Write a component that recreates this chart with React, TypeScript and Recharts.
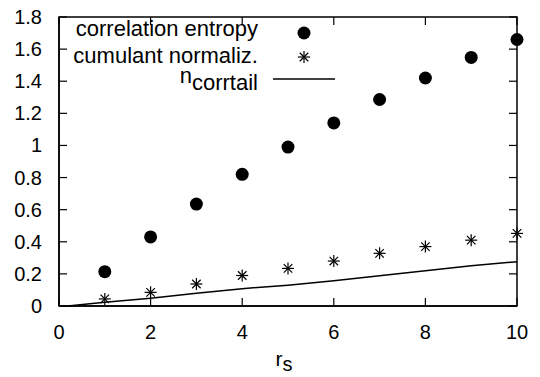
import React from "react";
import {
  ScatterChart, Scatter, XAxis, YAxis, Label,
} from "recharts";

// r_s values and series
const rs = [1, 2, 3, 4, 5, 6, 7, 8, 9, 10];
const corrEntropy = [0.214, 0.43, 0.635, 0.82, 0.99, 1.14, 1.286, 1.42, 1.548, 1.66];
const cumulantNorm = [0.044, 0.085, 0.137, 0.19, 0.234, 0.28, 0.328, 0.37, 0.41, 0.452];
const tailX = [0.19, 1, 2, 3, 4, 5, 6, 7, 8, 9, 10];
const tailY = [0, 0.023, 0.048, 0.079, 0.108, 0.13, 0.158, 0.189, 0.22, 0.25, 0.276];

const xTicks = [0, 2, 4, 6, 8, 10];
const yTicks = [0, 0.2, 0.4, 0.6, 0.8, 1, 1.2, 1.4, 1.6, 1.8];

const X_MIN = 0, X_MAX = 10, Y_MIN = 0, Y_MAX = 1.8;

const entropyData = rs.map((x, i) => ({ x, y: corrEntropy[i] }));
const cumulantData = rs.map((x, i) => ({ x, y: cumulantNorm[i] }));
const tailData = tailX.map((x, i) => ({ x, y: tailY[i] }));

const FONT = "'Liberation Sans', Arial, Helvetica, sans-serif";
const W = 540, H = 377;
const M = { top: 17, right: 23, bottom: 0, left: 0 };
const Y_AXIS_W = 59, X_AXIS_H = 71;
// plot box that follows from the margins and axis sizes
const PL = M.left + Y_AXIS_W, PR = W - M.right, PT = M.top, PB = H - M.bottom - X_AXIS_H;
const TICK_LEN = 8;

function Star({ cx, cy, r = 6 }: { cx?: number; cy?: number; r?: number }) {
  if (cx == null || cy == null) return <g />;
  const d = r * 0.7071;
  return (
    <g>
      <line x1={cx - r} y1={cy} x2={cx + r} y2={cy} stroke="#000" strokeWidth={1.2} />
      <line x1={cx} y1={cy - r} x2={cx} y2={cy + r} stroke="#000" strokeWidth={1.2} />
      <line x1={cx - d} y1={cy - d} x2={cx + d} y2={cy + d} stroke="#000" strokeWidth={1.2} />
      <line x1={cx - d} y1={cy + d} x2={cx + d} y2={cy - d} stroke="#000" strokeWidth={1.2} />
    </g>
  );
}

function Dot({ cx, cy }: { cx?: number; cy?: number }) {
  if (cx == null || cy == null) return <g />;
  return <circle cx={cx} cy={cy} r={6.5} fill="#000" />;
}

function BottomLabel(props: any) {
  const { x, y, payload } = props;
  return (
    <text x={x} y={y + 31} textAnchor="middle" fontSize={20} fontFamily={FONT} fill="#000">
      {String(payload.value)}
    </text>
  );
}

function LeftLabel(props: any) {
  const { x, y, payload } = props;
  return (
    <text x={x - 15} y={y + 7} textAnchor="end" fontSize={20} fontFamily={FONT} fill="#000">
      {String(payload.value)}
    </text>
  );
}

// frame, inward ticks and legend, drawn as an overlay on top of the chart
function Overlay() {
  const sx = (v: number) => PL + ((v - X_MIN) / (X_MAX - X_MIN)) * (PR - PL);
  const sy = (v: number) => PB - ((v - Y_MIN) / (Y_MAX - Y_MIN)) * (PB - PT);
  return (
    <svg
      width={W}
      height={H}
      style={{ position: "absolute", left: 0, top: 0, fontFamily: FONT, pointerEvents: "none" }}
    >
      <rect x={PL} y={PT} width={PR - PL} height={PB - PT} fill="none" stroke="#000" strokeWidth={1.5} />
      {xTicks.map((t) => (
        <g key={`x${t}`} stroke="#000" strokeWidth={1.2}>
          <line x1={sx(t)} y1={PB} x2={sx(t)} y2={PB - TICK_LEN} />
          <line x1={sx(t)} y1={PT} x2={sx(t)} y2={PT + TICK_LEN} />
        </g>
      ))}
      {yTicks.map((t) => (
        <g key={`y${t}`} stroke="#000" strokeWidth={1.2}>
          <line x1={PL} y1={sy(t)} x2={PL + TICK_LEN} y2={sy(t)} />
          <line x1={PR} y1={sy(t)} x2={PR - TICK_LEN} y2={sy(t)} />
        </g>
      ))}
      <text x={258} y={36} textAnchor="end" fontSize={22} fill="#000">correlation entropy</text>
      <circle cx={304} cy={33} r={6.5} fill="#000" />
      <text x={258} y={63} textAnchor="end" fontSize={22} fill="#000">cumulant normaliz.</text>
      <Star cx={304} cy={57} r={6} />
      <text x={258} y={83} textAnchor="end" fontSize={22} fill="#000">
        n<tspan dy={7}>corrtail</tspan>
      </text>
      <line x1={273} y1={79} x2={335} y2={79} stroke="#000" strokeWidth={1.5} />
    </svg>
  );
}

function XLabel(props: any) {
  const vb = props.viewBox || {};
  const cx = (vb.x ?? 0) + (vb.width ?? 0) / 2 - 4;
  return (
    <text x={cx} y={366} textAnchor="middle" fontSize={21} fontFamily={FONT} fill="#000">
      r<tspan dy={5} fontSize={20}>s</tspan>
    </text>
  );
}

export default function App() {
  return (
    <div style={{ position: "absolute", left: 0, top: 0, width: W, height: H, background: "#fff" }}>
      <ScatterChart width={W} height={H} margin={M}>
        <XAxis
          type="number"
          dataKey="x"
          domain={[X_MIN, X_MAX]}
          ticks={xTicks}
          interval={0}
          height={X_AXIS_H}
          tickSize={0}
          tickLine={false}
          tick={<BottomLabel />}
          axisLine={{ stroke: "#000", strokeWidth: 1.5 }}
        >
          <Label content={<XLabel />} />
        </XAxis>
        <YAxis
          type="number"
          dataKey="y"
          domain={[Y_MIN, Y_MAX]}
          ticks={yTicks}
          interval={0}
          width={Y_AXIS_W}
          tickSize={0}
          tickLine={false}
          tick={<LeftLabel />}
          axisLine={{ stroke: "#000", strokeWidth: 1.5 }}
        />
        <Scatter
          name="n_corrtail"
          data={tailData}
          line={{ stroke: "#000", strokeWidth: 1.5 }}
          shape={() => <g />}
          isAnimationActive={false}
        />
        <Scatter
          name="cumulant normaliz."
          data={cumulantData}
          shape={(p: any) => <Star cx={p.cx} cy={p.cy} r={6} />}
          isAnimationActive={false}
        />
        <Scatter
          name="correlation entropy"
          data={entropyData}
          shape={(p: any) => <Dot cx={p.cx} cy={p.cy} />}
          isAnimationActive={false}
        />
      </ScatterChart>
      <Overlay />
    </div>
  );
}
